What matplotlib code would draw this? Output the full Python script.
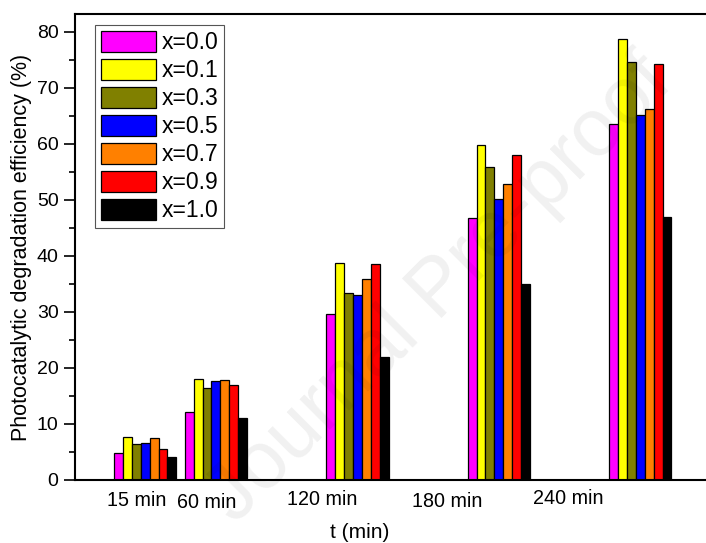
import matplotlib.pyplot as plt
import numpy as np
from matplotlib.ticker import MultipleLocator

plt.rcParams['font.family'] = ['Liberation Sans', 'DejaVu Sans']

# group positions on the axis (15 and 60 min squeezed together like the original)
positions = [0.5, 1, 2, 3, 4]
time_labels = ["15 min", "60 min", "120 min", "180 min", "240 min"]
series = ["x=0.0", "x=0.1", "x=0.3", "x=0.5", "x=0.7", "x=0.9", "x=1.0"]
colors = ["#FF00FF", "#FFFF00", "#808000", "#0000FF", "#FF8000", "#FF0000", "#000000"]

# efficiency (%) per series, one value per time
x00 = [4.9, 12.2, 29.7, 46.7, 63.6]
x01 = [7.7, 18.0, 38.7, 59.8, 78.8]
x03 = [6.5, 16.5, 33.3, 55.9, 74.7]
x05 = [6.6, 17.6, 33.0, 50.2, 65.2]
x07 = [7.5, 17.9, 35.9, 52.8, 66.3]
x09 = [5.6, 17.0, 38.5, 58.0, 74.2]
x10 = [4.05, 11.0, 21.9, 35.0, 47.0]
values = [x00, x01, x03, x05, x07, x09, x10]

fig = plt.figure(figsize=(7.06, 5.43), dpi=100)
W, H = 706, 543
ax = fig.add_axes([74.5 / W, (H - 480) / H, (711 - 74.5) / W, (480 - 14) / H])

bw = 0.063
pos = np.array(positions)
for i, (name, col, vals) in enumerate(zip(series, colors, values)):
    ax.bar(pos + (i - 3) * bw, vals, width=bw, color=col, edgecolor="black",
           linewidth=0.9, label=name, zorder=2)

ax.set_xlim(0, 4.5)
ax.set_ylim(0, 83.2)
ax.yaxis.set_major_locator(MultipleLocator(10))
ax.yaxis.set_minor_locator(MultipleLocator(5))
ax.tick_params(axis="y", which="major", direction="out", length=8, width=1.2, labelsize=14)
ax.tick_params(axis="y", which="minor", direction="out", length=4, width=1.2)
ax.set_xticks([])
ax.spines["right"].set_visible(False)
for s in ["left", "top", "bottom"]:
    ax.spines[s].set_linewidth(1.5)

# time labels placed by hand under the groups
label_x = [136.7, 207, 321.7, 447, 568.7]
label_y = [506.5, 508, 505, 507, 504.5]
for lx, ly, t in zip(label_x, label_y, time_labels):
    fig.text(lx / W, 1 - ly / H, t, ha="center", va="baseline", fontsize=14.2)

fig.text(360 / W, 1 - 538 / H, "t (min)", ha="center", va="baseline", fontsize=15)
fig.text(22 / W, 1 - 247 / H, "Photocatalytic degradation efficiency (%)",
         ha="center", va="center", rotation=90, fontsize=15.5)

leg = ax.legend(loc="upper left", bbox_to_anchor=((95 - 74.5) / 636.5, (480 - 25) / 466),
                borderaxespad=0, fontsize=16.5, handlelength=2.4, handleheight=1.05,
                labelspacing=0.2, handletextpad=0.25, borderpad=0.25,
                fancybox=False, framealpha=1)
leg.get_frame().set_edgecolor("#555555")
leg.get_frame().set_linewidth(0.8)

# faint watermark
fig.text(440 / W, 1 - 290 / H, "Journal Pre-proof", ha="center", va="center",
         rotation=45, fontsize=58, color="#000000", alpha=0.06, zorder=10)

fig.savefig("out.png", dpi=100)
